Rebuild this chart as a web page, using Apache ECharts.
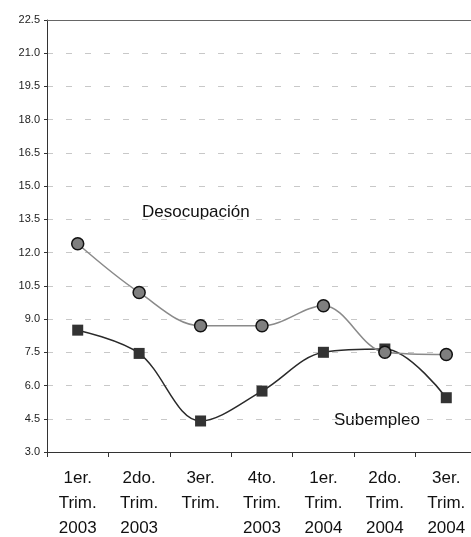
<!DOCTYPE html>
<html>
<head>
<meta charset="utf-8">
<script src="https://cdn.jsdelivr.net/npm/echarts@6/dist/echarts.min.js"></script>
<style>
  html, body { margin: 0; padding: 0; background: #fff; }
  #main { width: 471px; height: 537px; }
</style>
</head>
<body>
<div id="main"></div>
<script>
var categories = ['1er.\nTrim.\n2003', '2do.\nTrim.\n2003', '3er.\nTrim.\n', '4to.\nTrim.\n2003',
                  '1er.\nTrim.\n2004', '2do.\nTrim.\n2004', '3er.\nTrim.\n2004'];
var desocupacion = [12.4, 10.2, 8.7, 8.7, 9.6, 7.5, 7.4];
var subempleo = [8.5, 7.45, 4.4, 5.75, 7.5, 7.65, 5.45];

var myChart = echarts.init(document.getElementById('main'));
var option = {
  animation: false,
  grid: { left: 47, top: 20, width: 430, height: 432, outerBoundsMode: 'none', containLabel: false },
  xAxis: [{
    type: 'category',
    data: categories,
    axisLine: { lineStyle: { color: '#333', width: 1 } },
    axisTick: { show: true, length: 5, lineStyle: { color: '#333' } },
    axisLabel: {
      color: '#111', fontSize: 17, fontFamily: 'Liberation Sans',
      lineHeight: 25, margin: 14
    }
  }, {
    type: 'category',
    position: 'top',
    data: categories,
    axisLine: { lineStyle: { color: '#666', width: 1 } },
    axisTick: { show: false },
    axisLabel: { show: false }
  }],
  yAxis: {
    type: 'value',
    min: 3.0,
    max: 22.5,
    interval: 1.5,
    axisLine: { show: true, lineStyle: { color: '#333', width: 1 } },
    axisTick: { show: true, length: 3, lineStyle: { color: '#333' } },
    axisLabel: {
      color: '#222', fontSize: 11, fontFamily: 'Liberation Sans', margin: 7,
      formatter: function (v) { return v.toFixed(1); }
    },
    splitLine: { lineStyle: { color: '#c8c8c8', type: [6, 13] } }
  },
  series: [{
    name: 'Desocupación',
    type: 'line',
    data: desocupacion,
    smooth: 0.35,
    symbol: 'circle',
    symbolSize: 12,
    lineStyle: { color: '#8a8a8a', width: 1.5 },
    itemStyle: { color: '#7f7f7f', borderColor: '#111', borderWidth: 1.5 },
    z: 3
  }, {
    name: 'Subempleo',
    type: 'line',
    data: subempleo,
    smooth: 0.35,
    symbol: 'rect',
    symbolSize: 11,
    lineStyle: { color: '#2a2a2a', width: 1.5 },
    itemStyle: { color: '#333', borderColor: '#333', borderWidth: 0 },
    z: 2
  }],
  graphic: [{
    type: 'text', left: 142, top: 204,
    style: { text: 'Desocupación', fill: '#111', fontSize: 17, fontFamily: 'Liberation Sans' }
  }, {
    type: 'text', left: 334, top: 412,
    style: { text: 'Subempleo', fill: '#111', fontSize: 17, fontFamily: 'Liberation Sans' }
  }]
};
myChart.setOption(option);
</script>
</body>
</html>
